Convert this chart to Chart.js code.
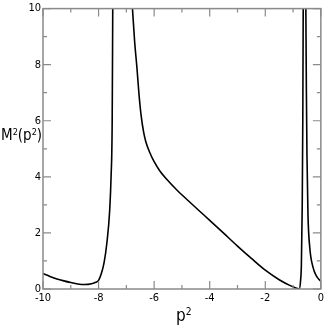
<!DOCTYPE html>
<html>
<head>
<meta charset="utf-8">
<script src="https://cdn.jsdelivr.net/npm/chart.js@4.4.1/dist/chart.umd.min.js"></script>
<style>
  html, body { margin: 0; padding: 0; background: #fff; }
  #wrap { position: relative; width: 327px; height: 327px; }
  .lbl { position: absolute; font-family: 'Liberation Sans Narrow', 'DejaVu Sans Condensed', 'Liberation Sans', sans-serif; color: #000; white-space: nowrap; line-height: 1; }
  .lbl sup { font-size: 0.6em; vertical-align: 0.55em; }
</style>
</head>
<body>
<div id="wrap">
  <canvas id="massChart" width="327" height="327"></canvas>
  <div class="lbl" id="ylab" style="left:1px; top:128px; font-size:15px;">M<sup>2</sup>(p<sup>2</sup>)</div>
  <div class="lbl" id="xlab" style="left:176px; top:307px; font-size:17px;">p<sup>2</sup></div>
</div>
<script>
// branch below the first pole
const seg1X = [-10, -9.75, -9.5, -9.25, -9, -8.75, -8.5, -8.25, -8.1, -8.0, -7.9, -7.8, -7.7, -7.6, -7.55, -7.51, -7.49];
const seg1Y = [0.55, 0.45, 0.36, 0.29, 0.23, 0.18, 0.16, 0.19, 0.24, 0.31, 0.55, 0.95, 1.65, 2.8, 4.0, 6.0, 10];

// branch between the two poles
const seg2X = [-6.78, -6.70, -6.62, -6.55, -6.47, -6.38, -6.30, -6.15, -6.0, -5.8, -5.58, -5.2, -4.75, -4.39, -4.0, -3.5, -3.0, -2.5, -2.0, -1.5, -1.1, -0.9, -0.78, -0.73, -0.70, -0.67, -0.65, -0.635];
const seg2Y = [10, 8.8, 7.9, 7.0, 6.2, 5.6, 5.25, 4.85, 4.54, 4.22, 3.95, 3.55, 3.13, 2.80, 2.45, 1.99, 1.53, 1.09, 0.67, 0.33, 0.12, 0.04, 0.0, 0.3, 0.9, 3.0, 6.0, 10];

// branch after the second pole
const seg3X = [-0.54, -0.52, -0.50, -0.464, -0.40, -0.286, -0.15, -0.046, 0];
const seg3Y = [10, 7, 4.8, 2.67, 1.49, 0.79, 0.45, 0.32, 0.28];

const xMajor = [-10, -8, -6, -4, -2, 0];
const yMajor = [0, 2, 4, 6, 8, 10];

const tickFont = { family: "'Liberation Sans Narrow', 'DejaVu Sans Condensed', 'Liberation Sans', sans-serif", size: 11 };

function pts(xs, ys) {
    return xs.map((x, i) => ({ x: x, y: ys[i] }));
}

// frame and inward ticks on all four sides
const frameTicks = {
    id: 'frameTicks',
    afterDraw(chart) {
        const c = chart.ctx;
        const a = chart.chartArea;
        const sx = chart.scales.x, sy = chart.scales.y;
        c.save();
        c.strokeStyle = '#8a8a8a';
        c.lineWidth = 1.5;
        c.strokeRect(a.left, a.top, a.right - a.left, a.bottom - a.top);
        c.lineWidth = 1.2;
        c.beginPath();
        for (let v = -10; v <= 0; v++) {
            const px = sx.getPixelForValue(v);
            const len = xMajor.includes(v) ? 8 : 4;
            c.moveTo(px, a.bottom); c.lineTo(px, a.bottom - len);
            c.moveTo(px, a.top); c.lineTo(px, a.top + len);
        }
        for (let v = 0; v <= 10; v++) {
            const py = sy.getPixelForValue(v);
            const len = yMajor.includes(v) ? 8 : 4;
            c.moveTo(a.left, py); c.lineTo(a.left + len, py);
            c.moveTo(a.right, py); c.lineTo(a.right - len, py);
        }
        c.stroke();
        c.restore();
    }
};

const lineStyle = {
    borderColor: '#000',
    borderWidth: 1.6,
    pointRadius: 0,
    showLine: true,
    fill: false,
    cubicInterpolationMode: 'monotone'
};

new Chart(document.getElementById('massChart'), {
    type: 'scatter',
    data: {
        datasets: [
            Object.assign({ data: pts(seg1X, seg1Y) }, lineStyle),
            Object.assign({ data: pts(seg2X, seg2Y) }, lineStyle),
            Object.assign({ data: pts(seg3X, seg3Y) }, lineStyle)
        ]
    },
    options: {
        responsive: false,
        animation: false,
        layout: { padding: { top: 5, right: 3, left: 0, bottom: 0 } },
        plugins: { legend: { display: false }, tooltip: { enabled: false } },
        scales: {
            x: {
                type: 'linear', min: -10, max: 0,
                grid: { display: false, drawTicks: false },
                border: { display: false },
                ticks: {
                    stepSize: 1, autoSkip: false, maxRotation: 0, padding: 3,
                    color: '#000', font: tickFont,
                    callback: v => xMajor.includes(v) ? String(v) : ''
                },
                afterFit: s => { s.height = 38; }
            },
            y: {
                type: 'linear', min: 0, max: 10,
                grid: { display: false, drawTicks: false },
                border: { display: false },
                ticks: {
                    stepSize: 1, autoSkip: false, padding: 2,
                    color: '#000', font: tickFont,
                    callback: v => yMajor.includes(v) ? String(v) : ''
                },
                afterFit: s => { s.width = 43; }
            }
        }
    },
    plugins: [frameTicks]
});
</script>
</body>
</html>
